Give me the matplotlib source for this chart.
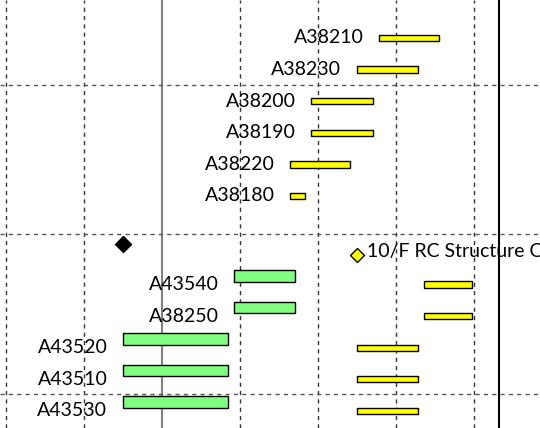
import matplotlib.pyplot as plt

# schedule data (days from the first grid line)
tasks = ["A38210", "A38230", "A38200", "A38190", "A38220", "A38180",
         "A43540", "A38250", "A43520", "A43510", "A43530"]
rows = [0, 1, 2, 3, 4, 5, 7.8, 8.8, 9.8, 10.8, 11.8]
cur_start = [33.5, 31.5, 27.4, 27.4, 25.5, 25.5, 37.5, 37.5, 31.5, 31.5, 31.5]
cur_finish = [38.9, 37.0, 32.9, 32.9, 30.9, 26.8, 41.8, 41.8, 37.0, 37.0, 37.0]
base_start = [None] * 6 + [20.5, 20.5, 10.5, 10.5, 10.5]
base_finish = [None] * 6 + [25.9, 25.9, 19.9, 19.9, 19.9]

milestone = "10/F RC Structure Complete"
ms_row = 6.8
ms_current = 31.5
ms_baseline = 10.5

today = 14
status_date = 44.25
group_breaks = [1.5, 6.2, 11.25]

plt.rcParams['font.family'] = ['Lato', 'DejaVu Sans']

fig = plt.figure(figsize=(5.4, 4.28), dpi=100)
ax = fig.add_axes([0, 0, 1, 1])

# grid
for d in range(0, 49, 7):
    if d == today:
        ax.axvline(d, color='#808080', lw=1.5, zorder=1)
    else:
        ax.axvline(d, color='#333333', lw=1, ls=(0, (3, 3)), zorder=1)
ax.axvline(status_date, color='black', lw=1.5, zorder=1)
for y in group_breaks:
    ax.axhline(y, color='#555555', lw=1, ls=(0, (3, 3)), zorder=1)

# bars
for i, name in enumerate(tasks):
    r = rows[i]
    ax.barh(r, cur_finish[i] - cur_start[i], left=cur_start[i], height=0.2,
            color='#FFFF00', edgecolor='black', lw=1, zorder=3)
    left = cur_start[i]
    if base_start[i] is not None:
        ax.barh(r - 0.275, base_finish[i] - base_start[i], left=base_start[i],
                height=0.37, color='#80FF80', edgecolor='black', lw=1, zorder=3)
        left = min(left, base_start[i])
    ax.text(left - 1.4, r, name, ha='right', va='center', fontsize=14,
            color='black', zorder=4)

# milestone
ax.plot(ms_baseline, ms_row - 0.275, marker='D', ms=8, color='black', zorder=3)
ax.plot(ms_current, ms_row + 0.08, marker='D', ms=7, mfc='#FFFF00',
        mec='black', mew=1, zorder=3)
ax.text(ms_current + 0.9, ms_row - 0.05, milestone, ha='left', va='center',
        fontsize=14, color='black', zorder=4)

ax.set_xlim(-0.54, 47.93)
ax.set_ylim(12.34, -1.2)
ax.axis('off')

fig.savefig('out.png', dpi=100)
